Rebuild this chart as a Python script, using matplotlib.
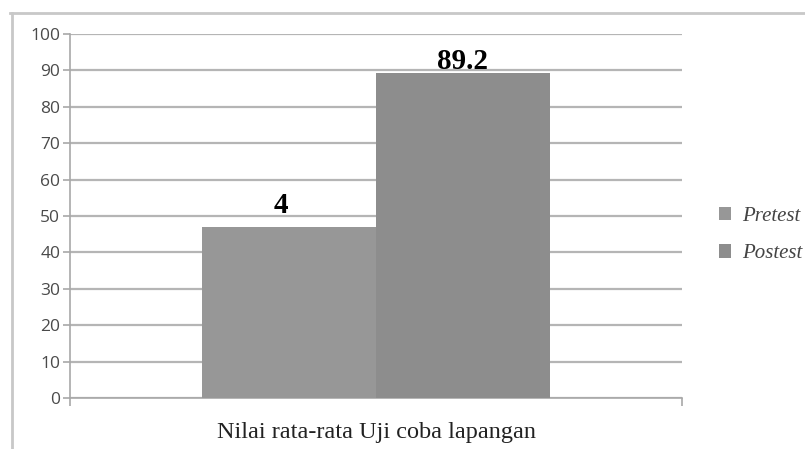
import numpy as np
import matplotlib.pyplot as plt
from matplotlib.lines import Line2D
from matplotlib.patches import Patch

series = ['Pretest', 'Postest']
values = [47, 89.2]
bar_labels = ['4', '89.2']
category = 'Nilai rata-rata Uji coba lapangan'
yticks = list(range(0, 101, 10))

colors = ['#979797', '#8d8d8d']
label_offsets = [(-6, 6), (0, -1)]  # points, relative to bar top centre

fig = plt.figure(figsize=(8.05, 4.49), dpi=100)
ax = fig.add_axes([70 / 805, 1 - 398 / 449, 612 / 805, 364 / 449])

# outer frame of the chart box
fig.add_artist(Line2D([10 / 805, 1], [1 - 13 / 449] * 2, color='#c8c8c8', lw=2))
fig.add_artist(Line2D([12 / 805] * 2, [0, 1 - 13 / 449], color='#c8c8c8', lw=2))

x = np.array([-0.5, 0.5])
bars = ax.bar(x, values, width=1.0, color=colors, zorder=3)
for b, lab, off in zip(bars, bar_labels, label_offsets):
    ax.annotate(lab, (b.get_x() + b.get_width() / 2, b.get_height()),
                xytext=off, textcoords='offset points', ha='center', va='bottom',
                fontsize=21, fontweight='bold', family='Liberation Serif', color='black', zorder=4)

ax.set_xlim(-1.76, 1.76)
ax.set_ylim(0, 100)
ax.set_yticks(yticks)
ax.set_yticklabels([str(t) for t in yticks], fontsize=12.5, family='Open Sans', color='#4a4a4a')
ax.yaxis.grid(True, color='#b5b5b5', lw=1.6, zorder=0)
ax.tick_params(axis='y', length=5, width=1.2, color='#a8a8a8', pad=2)
ax.set_xticks([-1.76, 1.76])
ax.set_xticklabels(['', ''])
ax.tick_params(axis='x', length=6, width=1.2, color='#a8a8a8', direction='out')

for s in ['top', 'right']:
    ax.spines[s].set_visible(False)
for s in ['left', 'bottom']:
    ax.spines[s].set_color('#a8a8a8')
    ax.spines[s].set_linewidth(1.2)

ax.text(0, -0.065, category, transform=ax.get_xaxis_transform(), ha='center', va='top',
        fontsize=17.5, family='Liberation Serif', color='#222222')

handles = [Patch(facecolor=c, edgecolor='none') for c in colors]
leg = fig.legend(handles, series, loc='center left', bbox_to_anchor=(704 / 805, 1 - 235 / 449),
                 frameon=False, handlelength=0.6, handleheight=0.6, handletextpad=0.55,
                 labelspacing=0.9, borderpad=0.2,
                 prop={'family': 'Liberation Serif', 'style': 'italic', 'size': 15})
for t in leg.get_texts():
    t.set_color('#444444')

fig.savefig('out.png', dpi=100)
